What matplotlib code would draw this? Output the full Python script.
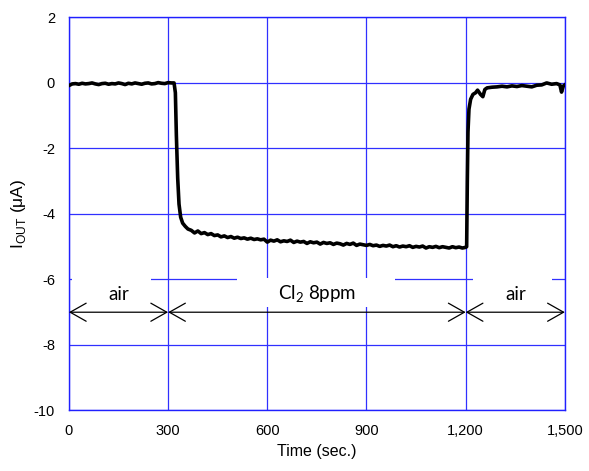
import numpy as np
import matplotlib.pyplot as plt
from matplotlib.patches import Rectangle
from matplotlib.ticker import FuncFormatter

# time (sec) and output current (uA)
t_air1 = [0, 10, 20, 30, 40, 50, 60, 70, 80, 90, 100, 110, 120, 130, 140, 150,
          160, 170, 180, 190, 200, 210, 220, 230, 240, 250, 260, 270, 280, 290,
          300, 310, 318]
i_air1 = [-0.08, -0.03, -0.02, -0.04, -0.01, -0.03, -0.02, 0.0, -0.03, -0.05,
          -0.02, -0.01, -0.04, -0.02, -0.03, 0.0, -0.02, -0.05, -0.01, -0.03,
          0.0, -0.02, -0.04, -0.01, 0.0, -0.03, -0.02, 0.01, -0.01, -0.02,
          0.01, 0.0, 0.0]

t_drop = [322, 325, 329, 333, 338, 344, 352, 360]
i_drop = [-0.3, -1.6, -2.9, -3.7, -4.1, -4.28, -4.38, -4.46]

t_cl2 = [370, 380, 390, 400, 410, 420, 430, 440, 450, 460, 470, 480, 490, 500,
         510, 520, 530, 540, 550, 560, 570, 580, 590, 600, 610, 620, 630, 640,
         650, 660, 670, 680, 690, 700, 710, 720, 730, 740, 750, 760, 770, 780,
         790, 800, 810, 820, 830, 840, 850, 860, 870, 880, 890, 900, 910, 920,
         930, 940, 950, 960, 970, 980, 990, 1000, 1010, 1020, 1030, 1040, 1050,
         1060, 1070, 1080, 1090, 1100, 1110, 1120, 1130, 1140, 1150, 1160, 1170,
         1180, 1190, 1200]
i_cl2 = [-4.5, -4.58, -4.52, -4.6, -4.57, -4.63, -4.6, -4.66, -4.64, -4.7,
         -4.67, -4.72, -4.69, -4.74, -4.71, -4.75, -4.73, -4.77, -4.74, -4.78,
         -4.76, -4.79, -4.77, -4.86, -4.8, -4.83, -4.79, -4.85, -4.82, -4.84,
         -4.8, -4.87, -4.83, -4.86, -4.84, -4.9, -4.85, -4.88, -4.86, -4.92,
         -4.87, -4.9, -4.88, -4.93, -4.89, -4.91, -4.95, -4.9, -4.93, -4.89,
         -4.96, -4.92, -4.94, -4.96, -4.93, -4.97, -4.95, -4.99, -4.96, -4.98,
         -4.95, -5.0, -4.97, -5.01, -4.98, -5.0, -4.97, -5.02, -4.99, -5.01,
         -4.98, -5.04, -5.0, -5.02, -4.99, -5.03, -5.0, -5.02, -5.04, -5.0,
         -5.03, -5.01, -5.04, -5.02]

t_air2 = [1203, 1205, 1207, 1210, 1215, 1222, 1230, 1236, 1245, 1252, 1258,
          1265, 1280, 1295, 1310, 1325, 1340, 1355, 1370, 1385, 1400, 1415,
          1430, 1445, 1460, 1475, 1485, 1490, 1495, 1500]
i_air2 = [-5.0, -3.0, -1.5, -0.8, -0.5, -0.35, -0.3, -0.22, -0.35, -0.42, -0.2,
          -0.15, -0.13, -0.12, -0.1, -0.12, -0.09, -0.11, -0.08, -0.1, -0.12,
          -0.07, -0.06, 0.0, -0.04, -0.02, -0.06, -0.28, -0.1, -0.06]

time = t_air1 + t_drop + t_cl2 + t_air2
iout = i_air1 + i_drop + i_cl2 + i_air2

# gas phases: (start, end, label)
phases = [(0, 300, 'air'), (300, 1200, 'Cl$_\\mathregular{2}$ 8ppm'), (1200, 1500, 'air')]
label_boxes = [(9, 248), (508, 986), (1222, 1461)]

fig = plt.figure(figsize=(5.89, 4.71), dpi=100)
ax = fig.add_axes([0.117, 0.1285, 0.842, 0.8345])

ax.set_xlim(0, 1500)
ax.set_ylim(-10, 2)
ax.set_xticks([0, 300, 600, 900, 1200, 1500])
ax.set_yticks(np.arange(-10, 3, 2))
ax.xaxis.set_major_formatter(FuncFormatter(lambda v, p: f'{int(v):,}'))
ax.yaxis.set_major_formatter(FuncFormatter(lambda v, p: f'{int(v)}'))
ax.grid(True, color='#3030ff', lw=0.9)
ax.set_axisbelow(True)
for s in ax.spines.values():
    s.set_color('#2020ff')
    s.set_linewidth(1.0)
ax.tick_params(length=0, labelsize=10.5, pad=10)
for lab in ax.get_xticklabels() + ax.get_yticklabels():
    lab.set_fontfamily('Liberation Sans')

ax.plot(time, iout, color='black', lw=2.6, zorder=5)

for (x0, x1) in label_boxes:
    ax.add_patch(Rectangle((x0, -6.85), x1 - x0, 0.9, fc='white', ec='none', zorder=1))

for (a, b, lab) in phases:
    ax.annotate('', xy=(b, -7), xytext=(a, -7),
                arrowprops=dict(arrowstyle='<->,head_length=1.15,head_width=0.65',
                                lw=0.9, color='black', shrinkA=0, shrinkB=0),
                annotation_clip=False, zorder=3)
    ax.text((a + b) / 2, -6.45, lab, ha='center', va='center', fontsize=13.5,
            fontfamily='Lato', zorder=4)

ax.set_xlabel('Time (sec.)', fontsize=11.5, fontfamily='Liberation Sans', labelpad=4)
ax.set_ylabel('I$_\\mathregular{OUT}$ (μA)', fontsize=12.5, fontfamily='Liberation Sans', labelpad=4)

fig.savefig('out.png', dpi=100)
